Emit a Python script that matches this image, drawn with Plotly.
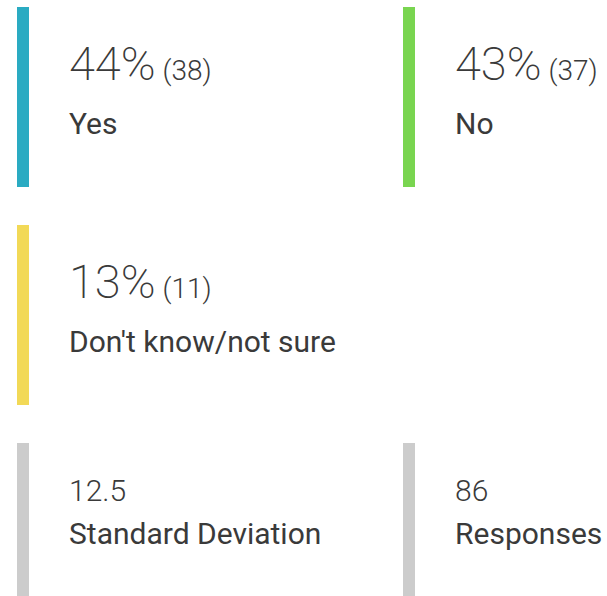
import plotly.graph_objects as go

# survey answers
answers = ["Yes", "No", "Don't know/not sure"]
percents = [44, 43, 13]
counts = [38, 37, 11]
answer_colors = ["#2aabc2", "#79d550", "#f2d957"]

# summary stats
stat_labels = ["Standard Deviation", "Responses"]
stat_values = ["12.5", "86"]
stat_color = "#cccccc"

W, H = 607, 596
col_x = [17, 403]          # left edge of each card's accent bar
bar_w = 12
text_dx = 50               # text indent from bar left edge
card_tops = [7, 225, 443]
card_h = [180, 180, 170]

fig = go.Figure()
# invisible trace so the axes exist
fig.add_trace(go.Scatter(x=[0, W], y=[0, H], mode="markers",
                         marker=dict(opacity=0), hoverinfo="skip", showlegend=False))

shapes = []
annotations = []
txt = "#3a3a3a"

def add_card(col, row, color):
    x0 = col_x[col]
    y0 = card_tops[row]
    y1 = min(y0 + card_h[row], H)
    shapes.append(dict(type="rect", xref="x", yref="y", x0=x0, x1=x0 + bar_w,
                       y0=y0, y1=y1, fillcolor=color, line=dict(width=0)))
    return x0 + text_dx, y0

for i, (ans, p, c, col) in enumerate(zip(answers, percents, counts, answer_colors)):
    tx, ty = add_card(i % 2, i // 2, col)
    annotations.append(dict(
        x=tx, y=ty + 56, xref="x", yref="y", xanchor="left", yanchor="middle",
        showarrow=False,
        text=f"<span style='font-size:47px;font-weight:200'>{p}%</span>"
             f"<span style='font-size:28px;font-weight:300'> ({c})</span>",
        font=dict(family="Roboto", size=47, color=txt)))
    annotations.append(dict(
        x=tx, y=ty + 116, xref="x", yref="y", xanchor="left", yanchor="middle",
        showarrow=False, text=ans,
        font=dict(family="Roboto", size=30, color=txt)))

for j, (lab, val) in enumerate(zip(stat_labels, stat_values)):
    tx, ty = add_card(j, 2, stat_color)
    annotations.append(dict(
        x=tx, y=ty + 47, xref="x", yref="y", xanchor="left", yanchor="middle",
        showarrow=False, text=val,
        font=dict(family="Roboto", size=30, color=txt, weight=300)))
    annotations.append(dict(
        x=tx, y=ty + 90, xref="x", yref="y", xanchor="left", yanchor="middle",
        showarrow=False, text=lab,
        font=dict(family="Roboto", size=30, color=txt)))

fig.update_layout(
    width=W, height=H,
    margin=dict(l=0, r=0, t=0, b=0),
    paper_bgcolor="white", plot_bgcolor="white",
    xaxis=dict(range=[0, W], visible=False, fixedrange=True),
    yaxis=dict(range=[H, 0], visible=False, fixedrange=True),
    shapes=shapes, annotations=annotations,
    showlegend=False,
)

# drop the default page margin so the figure fills the window
fig.write_html("out.html", config={"displayModeBar": False},
               post_script="document.body.style.margin='0';document.body.style.overflow='hidden';")
